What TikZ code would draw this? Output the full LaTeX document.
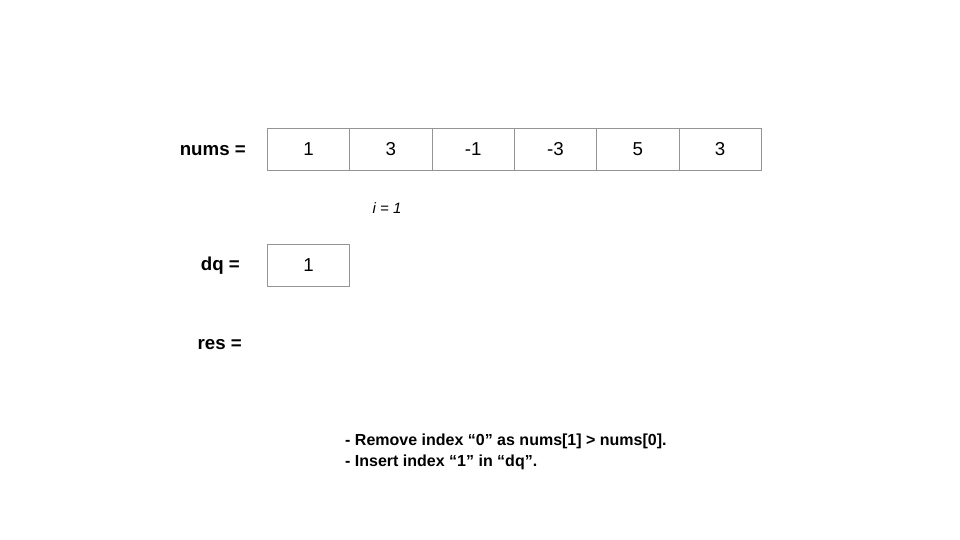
\documentclass[tikz,border=0pt]{standalone}
\usepackage{fontspec}
\setmainfont{Liberation Sans}
\begin{document}
\begin{tikzpicture}[x=1pt,y=-1pt,
  cell/.style={draw=gray!80!black!70, line width=0.9pt, minimum width=82.3pt, minimum height=42pt, inner sep=0pt, anchor=north west, font=\fontsize{18.7}{22}\selectfont},
  lbl/.style={anchor=east, inner sep=0pt, font=\bfseries\fontsize{18.7}{22}\selectfont},
  note/.style={anchor=north west, inner sep=0pt, align=left, font=\bfseries\fontsize{16}{21}\selectfont}]
\useasboundingbox[fill=white] (0,0) rectangle (960,540);
\node[cell] (c0) at (267,128) {1};
\node[cell] (c1) at (349.3,128) {3};
\node[cell] (c2) at (431.6,128) {-1};
\node[cell] (c3) at (513.9,128) {-3};
\node[cell] (c4) at (596.2,128) {5};
\node[cell] (c5) at (678.5,128) {3};
\node[lbl] (nums) at (246,151) {nums =};
\node[inner sep=0pt, font=\itshape\fontsize{15}{18}\selectfont] (i) at (387,208) {i = 1};
\node[cell] (d0) at (267,244) {1};
\node[lbl] (dq) at (240,266) {dq =};
\node[lbl] (res) at (242,345) {res =};
\node[note] (n) at (345,434) {- Remove index “0” as nums[1] > nums[0].\\- Insert index “1” in “dq”.};
\end{tikzpicture}
\end{document}
